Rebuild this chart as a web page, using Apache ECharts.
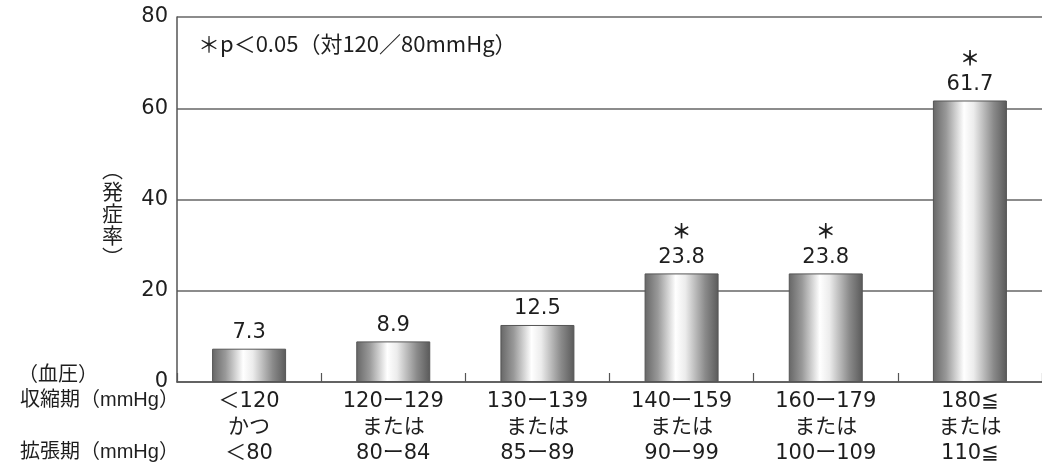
<!DOCTYPE html>
<html>
<head>
<meta charset="utf-8">
<script src="https://cdn.jsdelivr.net/npm/echarts@6/dist/echarts.min.js"></script>
<style>
html,body{margin:0;padding:0;background:#fff;}
#chart{width:1042px;height:470px;}
</style>
</head>
<body>
<div id="chart"></div>
<script>
// ---- data ----
const categories = [
  '＜120\nかつ\n＜80',
  '120ー129\nまたは\n80ー84',
  '130ー139\nまたは\n85ー89',
  '140ー159\nまたは\n90ー99',
  '160ー179\nまたは\n100ー109',
  '180≦\nまたは\n110≦'
];
const values = [7.3, 8.9, 12.5, 23.8, 23.8, 61.7];
const significant = [false, false, false, true, true, true];
const yTicks = [0, 20, 40, 60, 80];
const yAxisName = '︵\n発\n症\n率\n︶';
const noteText = '＊p＜0.05（対120／80mmHg）';
const rowLabels = ['（血圧）', '収縮期（mmHg）', '拡張期（mmHg）'];

const FONT = '"DejaVu Sans", "Noto Sans CJK JP", sans-serif';
const FONT_N = '"Liberation Sans", "Noto Sans CJK JP", sans-serif';
const TXT = '#1e1e1e';

const chart = echarts.init(document.getElementById('chart'), null, {renderer: 'canvas'});

const barGradient = new echarts.graphic.LinearGradient(0, 0, 1, 0, [
  {offset: 0, color: '#666666'},
  {offset: 0.18, color: '#999999'},
  {offset: 0.42, color: '#ffffff'},
  {offset: 0.55, color: '#ececec'},
  {offset: 0.82, color: '#8a8a8a'},
  {offset: 1, color: '#595959'}
]);

chart.setOption({
  animation: false,
  backgroundColor: '#ffffff',
  textStyle: {fontFamily: FONT},
  grid: {left: 177, right: -6, top: 17, bottom: 88, containLabel: false},
  xAxis: {
    type: 'category',
    data: categories,
    axisLine: {show: true, lineStyle: {color: '#555', width: 1.5}},
    axisTick: {show: true, inside: true, length: 9, lineStyle: {color: '#555', width: 1.2}},
    axisLabel: {
      color: TXT, fontSize: 21, lineHeight: 26, margin: 7,
      fontFamily: FONT, interval: 0
    },
    splitLine: {show: false}
  },
  yAxis: {
    type: 'value',
    min: yTicks[0],
    max: yTicks[yTicks.length - 1],
    interval: 20,
    axisLine: {show: true, lineStyle: {color: '#555', width: 1.5}},
    axisTick: {show: false},
    axisLabel: {color: TXT, fontSize: 21, margin: 9, fontFamily: FONT},
    splitLine: {show: true, lineStyle: {color: '#666', width: 1.5}}
  },
  series: [{
    type: 'bar',
    data: values,
    barWidth: 74,
    itemStyle: {color: barGradient, borderColor: '#555', borderWidth: 1},
    label: {
      show: true,
      position: 'top',
      distance: 3,
      color: TXT,
      fontSize: 21,
      fontFamily: FONT,
      lineHeight: 26,
      formatter: function (p) {
        return (significant[p.dataIndex] ? '{s|＊}\n' : '') + p.value;
      },
      rich: {
        s: {fontSize: 20, lineHeight: 26, color: TXT, fontWeight: 'bold', fontFamily: '"Noto Sans CJK JP", sans-serif'}
      }
    }
  }],
  graphic: [
    {type: 'text', left: 198, top: 33,
      style: {text: noteText, fill: TXT, font: '22px "Noto Sans CJK JP", sans-serif'}},
    {type: 'text', left: 102, top: 158,
      style: {text: yAxisName, lineHeight: 22, fill: TXT, font: '21px "Noto Sans CJK JP", sans-serif', align: 'center'}},
    {type: 'text', left: 18, top: 365,
      style: {text: rowLabels[0], fill: TXT, font: '20px ' + FONT_N}},
    {type: 'text', left: 20, top: 390,
      style: {text: rowLabels[1], fill: TXT, font: '20px ' + FONT_N}},
    {type: 'text', left: 20, top: 442,
      style: {text: rowLabels[2], fill: TXT, font: '20px ' + FONT_N}}
  ]
});
</script>
</body>
</html>
